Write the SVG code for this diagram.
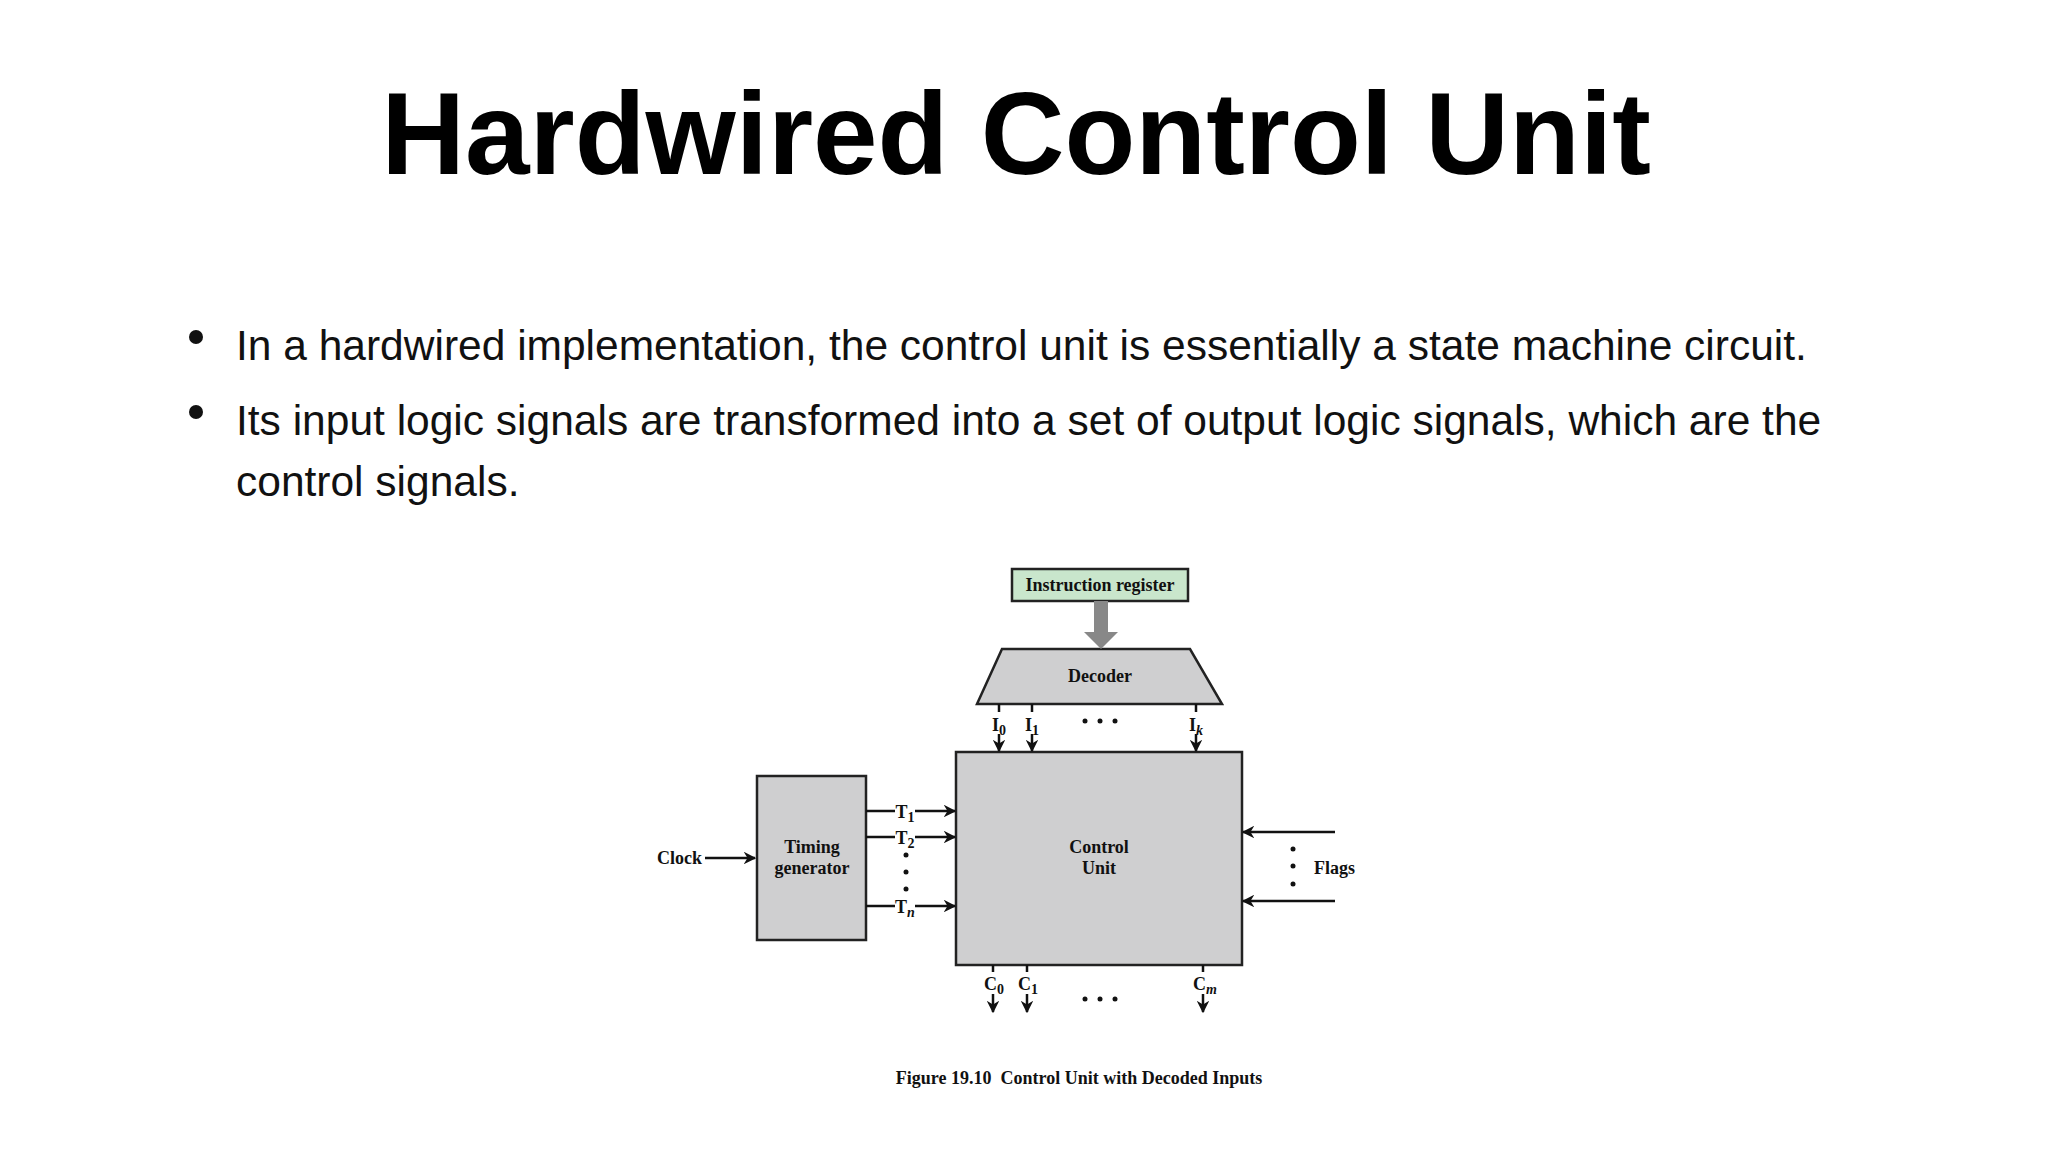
<svg xmlns="http://www.w3.org/2000/svg" width="2048" height="1152" viewBox="0 0 2048 1152">
<style>
.t{font-family:"Liberation Serif",serif;font-weight:bold;font-size:18px;fill:#111}
.s{font-family:"Liberation Serif",serif;font-weight:bold;font-size:14px;fill:#111}
.b{fill:#cfcfd0;stroke:#222;stroke-width:2.5}
.w{stroke:#111;stroke-width:2.5;fill:none}
.p{font-family:"Liberation Sans",Arial,sans-serif;font-size:42.5px;fill:#111}
</style>
<defs><marker id="a" viewBox="0 0 10 10" refX="9" refY="5" markerWidth="5" markerHeight="5" orient="auto"><path d="M0,0L10,5L0,10L3,5z" fill="#111"/></marker></defs>
<rect width="2048" height="1152" fill="#fff"/>
<text x="1016" y="174" text-anchor="middle" font-family="Liberation Sans,Arial,sans-serif" font-weight="bold" font-size="116" fill="#000">Hardwired Control Unit</text>
<circle cx="196" cy="337" r="7" fill="#111"/><circle cx="196" cy="412" r="7" fill="#111"/>
<text class="p" x="236" y="360">In a hardwired implementation, the control unit is essentially a state machine circuit.</text>
<text class="p" x="236" y="435">Its input logic signals are transformed into a set of output logic signals, which are the</text>
<text class="p" x="236" y="496">control signals.</text>
<g id="ir"><rect x="1012" y="569" width="176" height="32" fill="#c9e6cc" stroke="#222" stroke-width="2.5"/><text class="t" x="1100" y="591" text-anchor="middle">Instruction register</text></g>
<g id="decoder"><polygon class="b" points="1002,649 1190,649 1222,704 977,704"/><text class="t" x="1100" y="682" text-anchor="middle">Decoder</text></g>
<g id="timing"><rect class="b" x="757" y="776" width="109" height="164"/><text class="t" x="812" y="853" text-anchor="middle">Timing</text><text class="t" x="812" y="874" text-anchor="middle">generator</text></g>
<g id="cu"><rect class="b" x="956" y="752" width="286" height="213"/><text class="t" x="1099" y="853" text-anchor="middle">Control</text><text class="t" x="1099" y="874" text-anchor="middle">Unit</text></g>
<g id="connectors">
<path d="M1094,601V632H1084L1101,649L1118,632H1108V601z" fill="#888"/>
<path class="w" marker-end="url(#a)" d="M999,704V751"/><path class="w" marker-end="url(#a)" d="M1032,704V751"/><path class="w" marker-end="url(#a)" d="M1196,704V751"/>
<path class="w" marker-end="url(#a)" d="M866,811H955"/><path class="w" marker-end="url(#a)" d="M866,837H955"/><path class="w" marker-end="url(#a)" d="M866,906H955"/>
<path class="w" marker-end="url(#a)" d="M705,858H755"/>
<path class="w" marker-end="url(#a)" d="M1335,832H1243"/><path class="w" marker-end="url(#a)" d="M1335,901H1243"/>
<path class="w" marker-end="url(#a)" d="M993,965V1012"/><path class="w" marker-end="url(#a)" d="M1027,965V1012"/><path class="w" marker-end="url(#a)" d="M1203,965V1012"/>
</g>
<g fill="#111"><circle cx="1085" cy="721" r="2.5"/><circle cx="1100" cy="721" r="2.5"/><circle cx="1115" cy="721" r="2.5"/>
<circle cx="1085" cy="999" r="2.5"/><circle cx="1100" cy="999" r="2.5"/><circle cx="1115" cy="999" r="2.5"/>
<circle cx="906" cy="855" r="2.5"/><circle cx="906" cy="872" r="2.5"/><circle cx="906" cy="889" r="2.5"/>
<circle cx="1293" cy="849" r="2.5"/><circle cx="1293" cy="866" r="2.5"/><circle cx="1293" cy="884" r="2.5"/></g>
<g text-anchor="middle">
<rect x="990" y="712" width="18" height="22" fill="#fff"/><rect x="1023" y="712" width="18" height="22" fill="#fff"/><rect x="1187" y="712" width="18" height="22" fill="#fff"/>
<text class="t" x="999" y="731">I<tspan class="s" dy="4">0</tspan></text>
<text class="t" x="1032" y="731">I<tspan class="s" dy="4">1</tspan></text>
<text class="t" x="1196" y="731">I<tspan class="s" dy="4" font-style="italic">k</tspan></text>
<rect x="895" y="801" width="20" height="20" fill="#fff"/><rect x="895" y="827" width="20" height="20" fill="#fff"/><rect x="895" y="896" width="20" height="20" fill="#fff"/>
<text class="t" x="905" y="818">T<tspan class="s" dy="4">1</tspan></text>
<text class="t" x="905" y="844">T<tspan class="s" dy="4">2</tspan></text>
<text class="t" x="905" y="913">T<tspan class="s" dy="4" font-style="italic">n</tspan></text>
<rect x="983" y="972" width="22" height="22" fill="#fff"/><rect x="1017" y="972" width="22" height="22" fill="#fff"/><rect x="1191" y="972" width="26" height="22" fill="#fff"/>
<text class="t" x="994" y="990">C<tspan class="s" dy="4">0</tspan></text>
<text class="t" x="1028" y="990">C<tspan class="s" dy="4">1</tspan></text>
<text class="t" x="1205" y="990">C<tspan class="s" dy="4" font-style="italic">m</tspan></text>
</g>
<text class="t" x="702" y="864" text-anchor="end">Clock</text>
<text class="t" x="1314" y="874">Flags</text>
<text class="t" x="1079" y="1084" text-anchor="middle" font-size="25" xml:space="preserve">Figure 19.10  Control Unit with Decoded Inputs</text>
</svg>
